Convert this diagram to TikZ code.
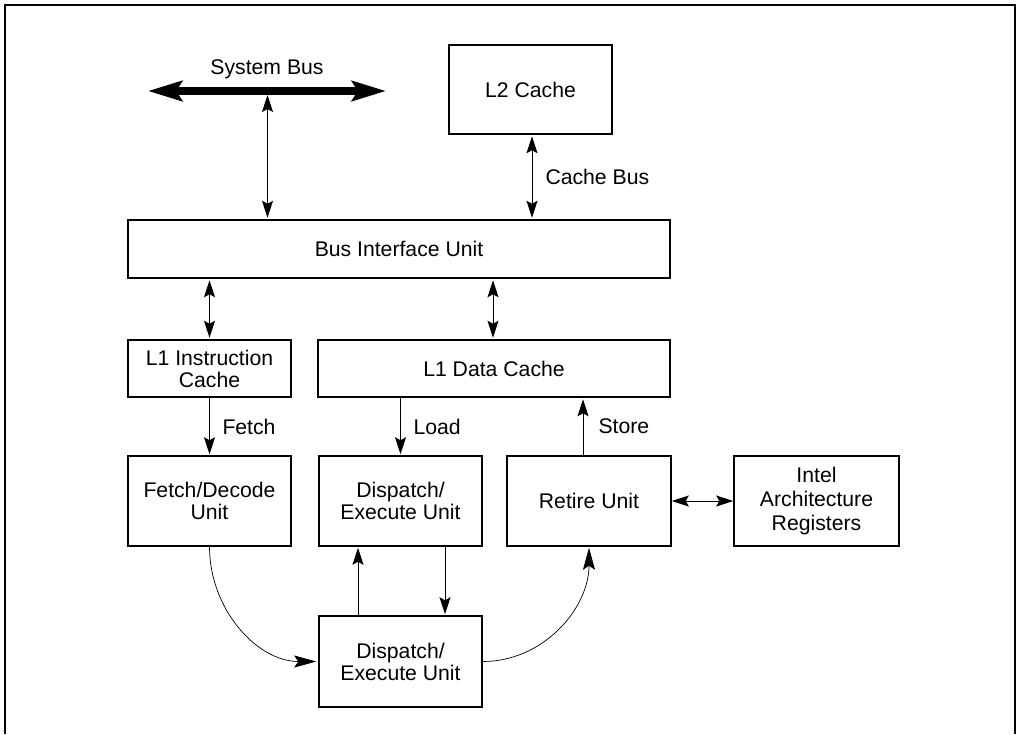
\documentclass[tikz,border=0pt]{standalone}
\usepackage{fontspec}
\setmainfont{Liberation Sans}
\usetikzlibrary{arrows.meta}
\tikzset{
  head/.tip={Stealth[length=17pt,width=11pt,inset=3pt]},
  bighead/.tip={Stealth[length=22pt,width=12pt,inset=4pt]},
  bushead/.tip={Stealth[length=34pt,width=20pt,inset=6pt]}
}
\begin{document}
\begin{tikzpicture}[x=1pt,y=-1pt,
  every node/.style={font=\fontsize{21.2}{22}\selectfont},
  box/.style={draw, line width=1.5pt, inner sep=0pt, align=center},
  thinarrow/.style={line width=1pt, shorten <=1.5pt, shorten >=1.5pt},
  busarrow/.style={line width=8pt, {bushead}-{bushead}},
  curve/.style={line width=0.7pt},
  lbl/.style={anchor=west, inner sep=0pt}]
\useasboundingbox (0,0) rectangle (1016,734);
% frame (open at bottom)
\draw[line width=2pt] (5,734) -- (5,5) -- (1014.5,5) -- (1014.5,734);

% boxes
\node[box, minimum width=163pt, minimum height=89pt] (L2) at (530.5,89.5) {L2 Cache};
\node[box, minimum width=542pt, minimum height=58pt] (BIU) at (399,249) {Bus Interface Unit};
\node[box, minimum width=163pt, minimum height=57pt] (L1I) at (209.5,368.5) {L1 Instruction\\Cache};
\node[box, minimum width=352pt, minimum height=57pt] (L1D) at (494,368.5) {L1 Data Cache};
\node[box, minimum width=163pt, minimum height=90pt] (FD) at (209.5,501) {Fetch/Decode\\Unit};
\node[box, minimum width=163pt, minimum height=90pt] (DE1) at (400.5,501) {Dispatch/\\Execute Unit};
\node[box, minimum width=164pt, minimum height=90pt] (RU) at (589,501) {Retire Unit};
\node[box, minimum width=165pt, minimum height=90pt, font=\fontsize{21.2}{24}\selectfont] (IAR) at (816.5,501) {Intel\\Architecture\\Registers};
\node[box, minimum width=163pt, minimum height=91pt] (DE2) at (400.5,661.5) {Dispatch/\\Execute Unit};

% system bus
\coordinate (sbL) at (148,91);
\coordinate (sbR) at (386,91);
\coordinate (sbJ) at (267.5,95);
\draw[busarrow] (sbL) -- (sbR);
\node (sblabel) at (267,69) {System Bus};
\draw[line width=1pt, {head}-{head}, shorten >=1.5pt] (sbJ) -- (sbJ |- BIU.north);

% cache bus
\draw[thinarrow, {head}-{head}] ([xshift=1.5pt]L2.south) -- ([xshift=1.5pt]L2.south |- BIU.north)
  node[midway, right=13pt, lbl] {Cache Bus};

% BIU to L1 caches
\draw[thinarrow, {head}-{head}] (L1I.north |- BIU.south) -- (L1I.north);
\draw[thinarrow, {head}-{head}] ([xshift=-1pt]L1D.north |- BIU.south) -- ([xshift=-1pt]L1D.north);

% fetch / load / store
\draw[line width=1pt, -{head}, shorten >=1pt] (L1I.south) -- (FD.north)
  node[midway, right=12.5pt, lbl] {Fetch};
\draw[line width=1pt, -{head}, shorten >=1pt] (DE1.north |- L1D.south) -- (DE1.north)
  node[midway, right=12.5pt, lbl] {Load};
\draw[line width=1pt, -{head}, shorten >=1.5pt] ([xshift=-6pt]RU.north) -- ([xshift=-6pt]RU.north |- L1D.south)
  node[midway, right=15pt, lbl] {Store};

% retire <-> registers
\draw[line width=1pt, {head}-{head}] (RU.east) -- (IAR.west);

% between dispatch units
\draw[line width=1pt, -{head}, shorten >=1pt] ([xshift=-42.5pt]DE2.north) -- ([xshift=-42.5pt]DE1.south);
\draw[line width=1pt, -{head}, shorten >=1pt] ([xshift=44.5pt]DE1.south) -- ([xshift=44.5pt]DE2.north);

% curves
\draw[curve, -{bighead}, shorten >=2pt] (FD.south) to[out=-90, in=180] (DE2.west);
\draw[curve, -{bighead}, shorten >=1pt] (DE2.east) to[out=0, in=-90] (RU.south);
\end{tikzpicture}
\end{document}
